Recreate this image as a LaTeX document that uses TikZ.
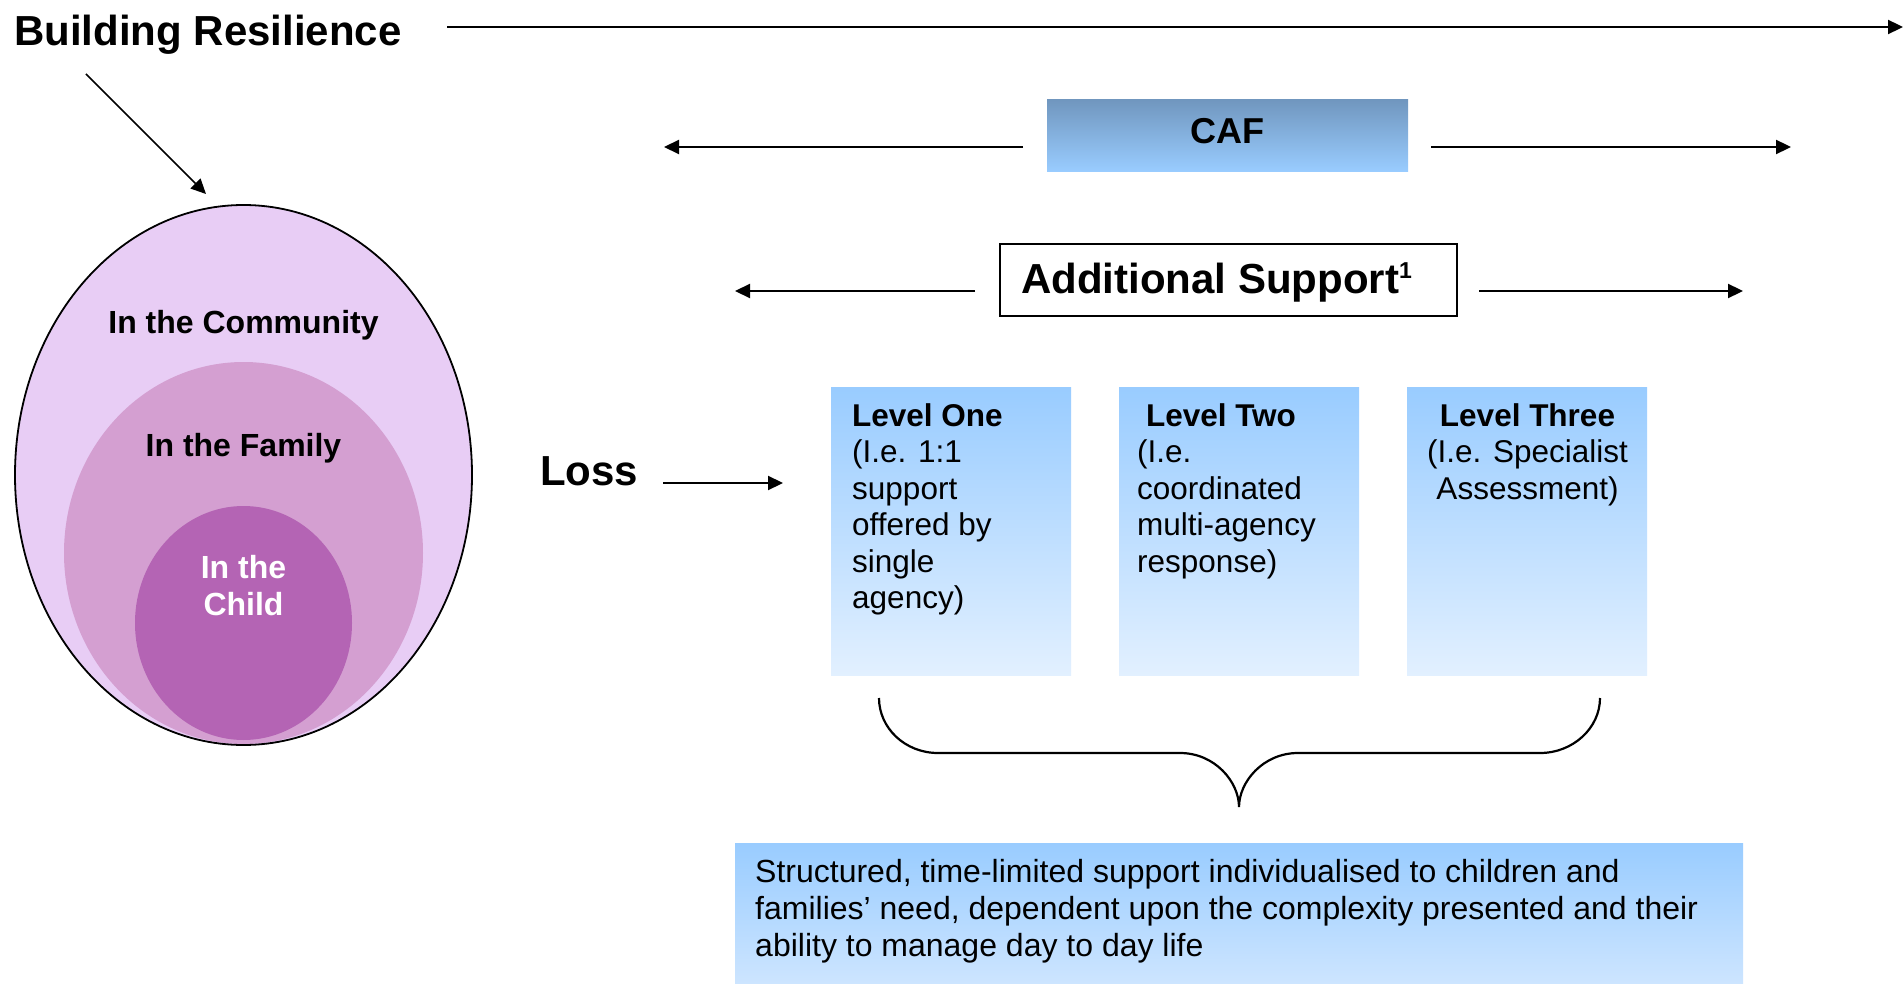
\documentclass[tikz,border=0pt]{standalone}
\usepackage{fontspec}
\setmainfont{Liberation Sans}
\usetikzlibrary{arrows.meta}

\definecolor{ringout}{HTML}{E8CDF5}
\definecolor{ringmid}{HTML}{D49FD1}
\definecolor{ringin}{HTML}{B464B4}
\definecolor{cafTop}{HTML}{7096BE}
\definecolor{skyTop}{HTML}{99CCFF}
\definecolor{skyLow}{HTML}{E2F0FF}
\definecolor{skyMid}{HTML}{CDE5FF}

\begin{document}
\begin{tikzpicture}[x=1pt,y=-1pt,
  arr/.style={line width=2.2pt,-{Triangle[length=15pt,width=14pt]}},
  bigbold/.style={font=\fontsize{42}{48}\selectfont\bfseries, inner sep=0pt},
  ringlabel/.style={font=\fontsize{32}{37}\selectfont\bfseries, inner sep=0pt, anchor=base},
  lvbox/.style={draw=none, top color=skyTop, bottom color=skyLow, inner sep=0pt,
    minimum width=240pt, minimum height=288pt, anchor=north west},
  lvtext/.style={font=\fontsize{31.5}{36.5}\selectfont, inner sep=0pt}
]
% page
\fill[white] (0,0) rectangle (1903,984);
\useasboundingbox (0,0) rectangle (1903,984);

% nested resilience rings
\fill[ringout] (243.5,475) ellipse [x radius=228.5pt, y radius=270pt];
\fill[ringmid] (243.5,553) ellipse [x radius=179.5pt, y radius=191pt];
\fill[ringin]  (243.5,623) ellipse [x radius=108.5pt, y radius=117pt];
\draw[line width=1.8pt] (243.5,475) ellipse [x radius=228.5pt, y radius=270pt];
\coordinate (ringtop) at (206,194);

\node[ringlabel] (community) at (243.5,333) {In the Community};
\node[ringlabel] (family) at (243.5,456) {In the Family};
\node[ringlabel, text=white, align=center, anchor=north] (child) at (243.5,555)
  {In the\\Child};

% heading and the resilience arrows
\node[bigbold, anchor=base west] (title) at (14,46) {Building Resilience};
\coordinate (diagStart) at (86,74);
\draw[line width=1.6pt,-{Triangle[length=15pt,width=14pt]}] (diagStart) -- (ringtop);
\coordinate (topStart) at (447,27);
\coordinate (topEnd) at (1903,27);
\draw[arr] (topStart) -- (topEnd);

% CAF bar
\node[top color=cafTop, bottom color=skyTop, inner sep=0pt, minimum width=361pt,
  minimum height=72pt, anchor=north west] (cafbox) at (1047,99) {};
\node[font=\fontsize{36}{40}\selectfont\bfseries, inner sep=0pt, anchor=base]
  (caf) at (1227,144) {CAF};
\coordinate (cafLs) at (1023,147);
\coordinate (cafLe) at (664,147);
\coordinate (cafRs) at (1431,147);
\coordinate (cafRe) at (1791,147);
\draw[arr] (cafLs) -- (cafLe);
\draw[arr] (cafRs) -- (cafRe);

% Additional support
\node[draw, line width=2pt, inner sep=0pt, minimum width=457pt, minimum height=72pt,
  anchor=north west] (asbox) at (999,243) {};
\node[bigbold, anchor=base west] (as) at (1021,294)
  {Additional Support\raisebox{15pt}{\fontsize{23}{26}\selectfont\bfseries 1}};
\coordinate (asLs) at (975,291);
\coordinate (asLe) at (735,291);
\coordinate (asRs) at (1479,291);
\coordinate (asRe) at (1743,291);
\draw[arr] (asLs) -- (asLe);
\draw[arr] (asRs) -- (asRe);

% loss
\node[bigbold, anchor=base west] (loss) at (540,485) {Loss};
\coordinate (lossS) at (663,483);
\coordinate (lossE) at (783,483);
\draw[arr] (lossS) -- (lossE);

% three levels of support
\node[lvbox] (lv1) at (831,387) {};
\node[lvbox] (lv2) at (1119,387) {};
\node[lvbox] (lv3) at (1407,387) {};

\node[lvtext, align=left, anchor=north west] (lv1t) at (852,403.4)
  {\textbf{Level One}\\(I.e. 1:1\\support\\offered by\\single\\agency)};
\node[lvtext, align=left, anchor=north west] (lv2t) at (1137,403.4)
  {\hspace*{8.8pt}\textbf{Level Two}\\(I.e.\\coordinated\\multi-agency\\response)};
\node[lvtext, align=center, anchor=north] (lv3t) at (1527.5,403.4)
  {\textbf{Level Three}\\(I.e. Specialist\\Assessment)};

% brace gathering the levels
\draw[line width=2.2pt] (879,698) .. controls (879,728) and (905,753) .. (938,753)
  -- (1180,753) .. controls (1215,753) and (1239,782) .. (1239,807)
  .. controls (1239,782) and (1263,753) .. (1298,753)
  -- (1540,753) .. controls (1573,753) and (1600,728) .. (1600,698);

% summary box
\node[top color=skyTop, bottom color=skyMid, inner sep=0pt, minimum width=1008pt,
  minimum height=141pt, anchor=north west] (sumbox) at (735,843) {};
\node[font=\fontsize{32}{37}\selectfont, inner sep=0pt, align=left, anchor=north west]
  (sum) at (755,859)
  {Structured, time-limited support individualised to children and\\
   families’ need, dependent upon the complexity presented and their\\
   ability to manage day to day life};
\end{tikzpicture}
\end{document}
